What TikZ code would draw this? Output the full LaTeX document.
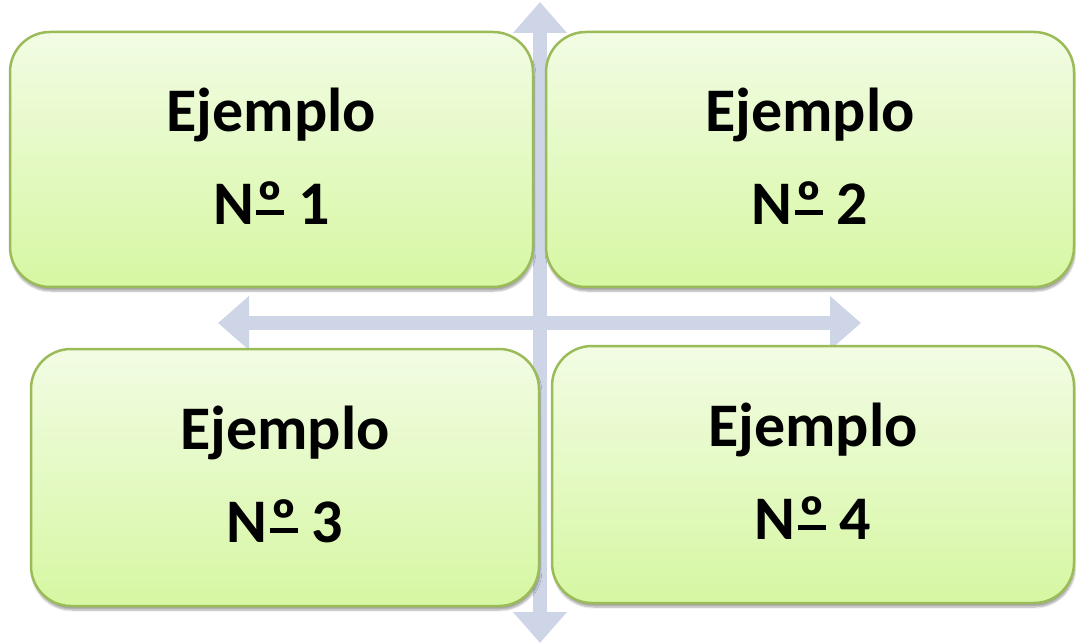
\documentclass[tikz,border=0pt]{standalone}
\usepackage{fontspec}
\setmainfont{Carlito}
\usetikzlibrary{arrows.meta,shadows.blur}
\definecolor{boxline}{HTML}{9BBB59}
\definecolor{boxtop}{HTML}{F2FCE4}
\definecolor{boxbottom}{HTML}{D6F7A2}
\definecolor{axisblue}{HTML}{CDD5E6}
\newcommand\numsign{N\kern0.04em\makebox[0.45em]{º}\kern-0.45em\rule[0.16em]{0.45em}{0.08em}}
\begin{document}
\begin{tikzpicture}
    [
        x = 1pt, y = -1pt,
        axis/.style = {draw=axisblue, line width=14pt,
            {Triangle[width=52pt,length=31pt]}-{Triangle[width=52pt,length=31pt]}},
        ejemplo/.style = {draw=boxline, line width=2.5pt, rounded corners=40pt,
            top color=boxtop, bottom color=boxbottom, align=center, text depth=6pt,
            font=\fontsize{62}{93}\selectfont\bfseries,
            blur shadow={shadow xshift=1pt, shadow yshift=-4pt, shadow blur steps=6, shadow opacity=35}}
    ]
    \useasboundingbox (0,0) rectangle (1076,644);
    % ejes
    \coordinate (arriba) at (540,2);
    \coordinate (abajo) at (540,643);
    \coordinate (izq) at (218,323);
    \coordinate (der) at (861,323);
    \draw [axis] (abajo) -- (arriba);
    \draw [axis] (izq) -- (der);
    % cuadros
    \node [ejemplo, minimum width=523pt, minimum height=255pt] (ej1) at (271.5,159.5) {Ejemplo\\\numsign\ 1};
    \node [ejemplo, minimum width=528pt, minimum height=255pt] (ej2) at (810,159.5) {Ejemplo\\\numsign\ 2};
    \node [ejemplo, minimum width=508pt, minimum height=257pt] (ej3) at (285,477.5) {Ejemplo\\\numsign\ 3};
    \node [ejemplo, minimum width=522pt, minimum height=257pt] (ej4) at (813,474.5) {Ejemplo\\\numsign\ 4};
\end{tikzpicture}
\end{document}
